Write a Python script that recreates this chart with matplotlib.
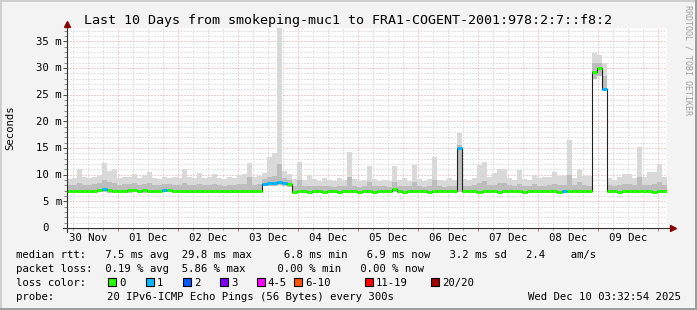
import numpy as np
import matplotlib
matplotlib.use('Agg')
import matplotlib.pyplot as plt
import matplotlib.dates as mdates
import matplotlib.transforms as mtransforms
from matplotlib.ticker import MultipleLocator
from matplotlib.patches import Rectangle
from matplotlib.lines import Line2D
from datetime import datetime, timedelta

# ---------------- data (2-hour bins, 10 days) ----------------
start_time = datetime(2025, 11, 30, 3, 32, 54)
end_time = datetime(2025, 12, 10, 3, 32, 54)
bin_hours = 2

median_ms = [
    6.9, 6.9, 7.0, 6.9, 6.9, 7.0, 7.2, 7.4, 7.1, 6.9,
    6.9, 6.9, 7.1, 7.2, 7.0, 7.1, 6.9, 6.9, 7.0, 7.2,
    7.2, 7.0, 6.9, 6.9, 6.9, 6.9, 7.0, 6.9, 7.0, 6.9,
    6.9, 6.9, 7.0, 6.9, 6.9, 6.9, 7.0, 6.9, 7.0, 8.2,
    8.4, 8.4, 8.6, 8.5, 8.3, 6.8, 6.9, 6.9, 6.8, 6.9,
    6.9, 6.8, 6.9, 6.9, 6.8, 6.9, 6.9, 6.9, 6.8, 6.9,
    6.9, 6.8, 6.9, 6.9, 6.9, 7.3, 6.9, 6.8, 6.9, 6.9,
    6.9, 6.9, 6.8, 6.9, 6.9, 6.9, 6.9, 6.9, 15.0, 6.9,
    6.9, 6.9, 6.8, 6.9, 6.9, 6.9, 6.8, 6.9, 6.9, 6.9,
    6.9, 6.8, 6.9, 6.9, 6.9, 6.9, 6.9, 6.9, 6.8, 6.9,
    6.9, 6.9, 6.9, 6.9, 6.9, 29.3, 30.0, 26.0, 6.9, 6.9,
    6.8, 6.9, 6.9, 6.9, 6.9, 6.9, 6.9, 6.8, 6.9, 6.9,
]

loss_count = [
    0, 0, 0, 0, 0, 0, 0, 1, 0, 0,
    0, 0, 0, 0, 0, 0, 0, 0, 0, 1,
    0, 0, 0, 0, 0, 0, 0, 0, 0, 0,
    0, 0, 0, 0, 0, 0, 0, 0, 0, 1,
    1, 1, 1, 1, 0, 0, 0, 0, 0, 0,
    0, 0, 0, 0, 0, 0, 0, 0, 0, 0,
    0, 0, 0, 0, 0, 0, 0, 0, 0, 0,
    0, 0, 0, 0, 0, 0, 0, 0, 1, 0,
    0, 0, 0, 0, 0, 0, 0, 0, 0, 0,
    0, 0, 0, 0, 0, 0, 0, 0, 0, 1,
    0, 0, 0, 0, 0, 0, 0, 1, 0, 0,
    0, 0, 0, 0, 0, 0, 0, 0, 0, 0,
]

smoke_lo = [
    6.6, 6.6, 6.6, 6.6, 6.6, 6.6, 6.7, 6.7, 6.6, 6.6,
    6.6, 6.6, 6.6, 6.7, 6.6, 6.6, 6.6, 6.6, 6.6, 6.7,
    6.7, 6.6, 6.6, 6.6, 6.6, 6.6, 6.6, 6.6, 6.6, 6.6,
    6.6, 6.6, 6.6, 6.6, 6.6, 6.6, 6.6, 6.6, 6.6, 7.8,
    7.9, 7.9, 8.0, 7.9, 7.7, 6.6, 6.6, 6.6, 6.6, 6.6,
    6.6, 6.6, 6.6, 6.6, 6.6, 6.6, 6.6, 6.6, 6.6, 6.6,
    6.6, 6.6, 6.6, 6.6, 6.6, 6.7, 6.6, 6.6, 6.6, 6.6,
    6.6, 6.6, 6.6, 6.6, 6.6, 6.6, 6.6, 6.6, 6.7, 6.6,
    6.6, 6.6, 6.6, 6.6, 6.6, 6.6, 6.6, 6.6, 6.6, 6.6,
    6.6, 6.6, 6.6, 6.6, 6.6, 6.6, 6.6, 6.6, 6.6, 6.6,
    6.6, 6.6, 6.6, 6.6, 6.6, 28.0, 28.5, 25.8, 6.6, 6.6,
    6.6, 6.6, 6.6, 6.6, 6.6, 6.6, 6.6, 6.6, 6.6, 6.6,
]

smoke_mid = [
    8.0, 8.1, 8.4, 8.0, 8.0, 8.2, 8.5, 9.0, 8.6, 8.4,
    8.1, 8.2, 8.2, 8.4, 8.0, 8.3, 8.4, 8.0, 8.0, 8.3,
    8.2, 8.1, 8.0, 8.5, 8.1, 8.0, 8.3, 8.0, 8.1, 8.3,
    8.0, 7.9, 8.1, 8.0, 8.3, 8.3, 9.5, 8.1, 8.3, 9.2,
    9.6, 9.8, 12.0, 9.4, 9.0, 7.8, 9.0, 7.8, 7.9, 7.8,
    7.8, 7.9, 7.8, 7.7, 7.9, 7.8, 9.5, 7.8, 7.7, 7.8,
    8.6, 7.9, 7.8, 7.8, 7.7, 8.6, 7.8, 7.9, 7.8, 8.6,
    7.8, 7.7, 7.9, 9.0, 7.8, 7.7, 7.9, 7.8, 15.5, 7.9,
    7.8, 8.0, 8.4, 8.8, 8.1, 8.0, 8.4, 8.5, 8.0, 7.8,
    8.3, 7.9, 7.8, 8.2, 7.9, 7.8, 8.0, 8.3, 8.0, 8.1,
    10.0, 8.0, 8.6, 8.1, 7.9, 31.0, 31.0, 28.5, 8.0, 7.8,
    8.1, 8.2, 8.3, 8.0, 9.5, 8.1, 8.0, 8.3, 8.6, 8.0,
]

smoke_hi = [
    9.2, 9.4, 11.0, 9.5, 9.3, 9.6, 9.8, 12.2, 10.7, 11.0,
    9.4, 9.6, 9.5, 10.2, 9.3, 10.0, 10.5, 9.4, 9.2, 9.5,
    9.3, 9.6, 9.4, 11.0, 9.5, 9.3, 10.4, 9.4, 9.6, 10.2,
    9.3, 9.2, 9.5, 9.4, 10.0, 10.2, 12.2, 9.6, 9.8, 10.3,
    13.4, 14.0, 60.0, 10.6, 10.2, 9.2, 12.4, 9.0, 10.0, 9.2,
    8.9, 9.4, 9.0, 8.8, 9.3, 9.0, 14.3, 9.1, 8.8, 9.0,
    11.6, 9.2, 8.9, 9.0, 8.8, 11.6, 9.0, 9.3, 8.9, 11.9,
    9.1, 8.9, 9.2, 13.4, 9.0, 8.8, 9.3, 9.0, 17.8, 9.2,
    9.0, 9.4, 11.8, 12.4, 9.6, 10.4, 11.0, 11.0, 9.4, 9.0,
    10.8, 9.2, 9.0, 10.0, 9.3, 9.6, 9.5, 10.5, 9.8, 9.8,
    16.5, 9.4, 11.0, 9.8, 9.8, 32.8, 32.5, 31.0, 9.4, 9.0,
    9.6, 10.2, 10.2, 9.4, 15.2, 9.6, 10.5, 10.5, 12.0, 9.5,
]

y_ticks = [0, 5, 10, 15, 20, 25, 30, 35]
y_tick_labels = ['0', '5 m', '10 m', '15 m', '20 m', '25 m', '30 m', '35 m']
day_labels = ['30 Nov', '01 Dec', '02 Dec', '03 Dec', '04 Dec',
              '05 Dec', '06 Dec', '07 Dec', '08 Dec', '09 Dec']
day_label_dates = [datetime(2025, 11, 30, 12), datetime(2025, 12, 1, 12),
                   datetime(2025, 12, 2, 12), datetime(2025, 12, 3, 12),
                   datetime(2025, 12, 4, 12), datetime(2025, 12, 5, 12),
                   datetime(2025, 12, 6, 12), datetime(2025, 12, 7, 12),
                   datetime(2025, 12, 8, 12), datetime(2025, 12, 9, 12)]

loss_labels = ['0', '1', '2', '3', '4-5', '6-10', '11-19', '20/20']
loss_colors = ['#26ff00', '#00b8ff', '#0059ff', '#7e00ff',
               '#ff00ff', '#ff5500', '#ff0000', '#a10000']

title = 'Last 10 Days from smokeping-muc1 to FRA1-COGENT-2001:978:2:7::f8:2'
stat_line1 = 'median rtt:   7.5 ms avg  29.8 ms max     6.8 ms min   6.9 ms now   3.2 ms sd   2.4    am/s'
stat_line2 = 'packet loss:  0.19 % avg  5.86 % max     0.00 % min   0.00 % now'
probe_text = '20 IPv6-ICMP Echo Pings (56 Bytes) every 300s'
stamp_text = 'Wed Dec 10 03:32:54 2025'

# ---------------- figure ----------------
W, H = 697, 310
MONO = 'DejaVu Sans Mono'
fig = plt.figure(figsize=(W / 100, H / 100), dpi=100)
fig.patch.set_facecolor('#f3f3f3')


def fx(px):
    return px / W


def fy(py):
    return 1 - py / H


ax = fig.add_axes([fx(67), fy(228), 600 / W, 200 / H])
ax.set_facecolor('white')
for s in ax.spines.values():
    s.set_visible(False)

n = len(median_ms)
edges = mdates.date2num([start_time + timedelta(hours=bin_hours * i) for i in range(n + 1)])
lo_e = np.append(smoke_lo, smoke_lo[-1])
mid_e = np.append(smoke_mid, smoke_mid[-1])
hi_e = np.append(smoke_hi, smoke_hi[-1])
med_e = np.append(median_ms, median_ms[-1])

ax.set_xlim(mdates.date2num(start_time), mdates.date2num(end_time))
ax.set_ylim(0, 37.5)

# grid
ax.xaxis.set_major_locator(mdates.DayLocator())
ax.xaxis.set_minor_locator(mdates.HourLocator(byhour=[6, 12, 18]))
ax.yaxis.set_major_locator(MultipleLocator(5))
ax.yaxis.set_minor_locator(MultipleLocator(1))
ax.set_axisbelow(True)
ax.grid(which='minor', color='#c8c8c8', lw=0.72, linestyle=(0, (1, 2)))
ax.grid(which='major', color='#eb9a9a', lw=0.72, linestyle=(0, (1, 2)))
ax.tick_params(which='both', labelleft=False, labelbottom=False)
ax.tick_params(axis='y', which='major', length=3, width=0.72, color='#505050')
ax.tick_params(axis='y', which='minor', length=2, width=0.72, color='#909090')
ax.tick_params(axis='x', which='major', length=2, width=0.72, color='#c07070')
ax.tick_params(axis='x', which='minor', length=1.5, width=0.72, color='#a0a0a0')

# smoke
ax.fill_between(edges, lo_e, hi_e, step='post', color='#d9d9d9', lw=0, zorder=2)
ax.fill_between(edges, lo_e, mid_e, step='post', color='#bdbdbd', lw=0, zorder=2.1)

# median
ax.step(edges, med_e, where='post', color='#202020', lw=0.8, zorder=3)
seg_colors = [loss_colors[c] for c in loss_count]
ax.hlines(median_ms, edges[:-1], edges[1:], colors=seg_colors, lw=2.2,
          zorder=4, capstyle='butt')

# axes lines + arrows
ax.plot([-4 / 600, 1 + 5 / 600], [0, 0], transform=ax.transAxes, color='#303030',
        lw=0.8, clip_on=False, zorder=5)
ax.plot([0, 0], [-4 / 200, 1 + 3 / 200], transform=ax.transAxes, color='#303030',
        lw=0.8, clip_on=False, zorder=5)
ax.plot([1 + 6 / 600], [0], marker='>', ms=4.2, color='#8a0000', mec='#8a0000',
        transform=ax.transAxes, clip_on=False, zorder=6)
ax.plot([0], [1 + 4 / 200], marker='^', ms=4.2, color='#8a0000', mec='#8a0000',
        transform=ax.transAxes, clip_on=False, zorder=6)

# y tick labels
ytrans = mtransforms.offset_copy(
    mtransforms.blended_transform_factory(ax.transAxes, ax.transData),
    fig=fig, x=0, y=-3.3, units='dots')
for v, lab in zip(y_ticks, y_tick_labels):
    xoff = -5 / 600 if lab != '0' else -18 / 600
    ax.text(xoff, v, lab, transform=ytrans, ha='right', va='baseline',
            family=MONO, fontsize=7.7, color='black')

# x tick labels
xtrans = mtransforms.blended_transform_factory(ax.transData, ax.transAxes)
for d, lab in zip(day_label_dates, day_labels):
    ax.text(mdates.date2num(d), -13 / 200, lab, transform=xtrans, ha='center',
            va='baseline', family=MONO, fontsize=7.7)

# titles and side texts
fig.text(fx(348), fy(24), title, ha='center', va='baseline', family=MONO, fontsize=9.6)
fig.text(fx(10.5), fy(128), 'Seconds', rotation=90, ha='center', va='center',
         family=MONO, fontsize=7.7)
fig.text(fx(688), fy(60), 'RRDTOOL / TOBI OETIKER', rotation=270, ha='center',
         va='center', family=MONO, fontsize=6.0, color='#a0a0a0')

# legend / statistics
fig.text(fx(16), fy(258), stat_line1, ha='left', va='baseline', family=MONO, fontsize=7.7)
fig.text(fx(16), fy(272), stat_line2, ha='left', va='baseline', family=MONO, fontsize=7.7)
fig.text(fx(16), fy(286), 'loss color:', ha='left', va='baseline', family=MONO, fontsize=7.7)
box_x = [108.3, 145.7, 182.7, 220, 256.7, 294, 365, 431]
for bx, lab, col in zip(box_x, loss_labels, loss_colors):
    fig.add_artist(Rectangle((fx(bx), fy(286)), 8 / W, 8 / H, transform=fig.transFigure,
                             facecolor=col, edgecolor='black', lw=0.8))
    fig.text(fx(bx + 11), fy(286), lab, ha='left', va='baseline', family=MONO, fontsize=7.7)
fig.text(fx(16), fy(300), 'probe:', ha='left', va='baseline', family=MONO, fontsize=7.7)
fig.text(fx(107), fy(300), probe_text, ha='left', va='baseline', family=MONO, fontsize=7.7)
fig.text(fx(681), fy(300), stamp_text, ha='right', va='baseline', family=MONO, fontsize=7.7)

# frame
fig.add_artist(Line2D([0, 1], [1 - 1 / H, 1 - 1 / H], transform=fig.transFigure,
                      color='#cfcfcf', lw=1.44))
fig.add_artist(Line2D([1 / W, 1 / W], [0, 1], transform=fig.transFigure,
                      color='#cfcfcf', lw=1.44))
fig.add_artist(Line2D([0, 1], [1 / H, 1 / H], transform=fig.transFigure,
                      color='#9e9e9e', lw=1.44))
fig.add_artist(Line2D([1 - 1 / W, 1 - 1 / W], [0, 1], transform=fig.transFigure,
                      color='#9e9e9e', lw=1.44))

fig.savefig('out.png', dpi=100, facecolor=fig.get_facecolor())
